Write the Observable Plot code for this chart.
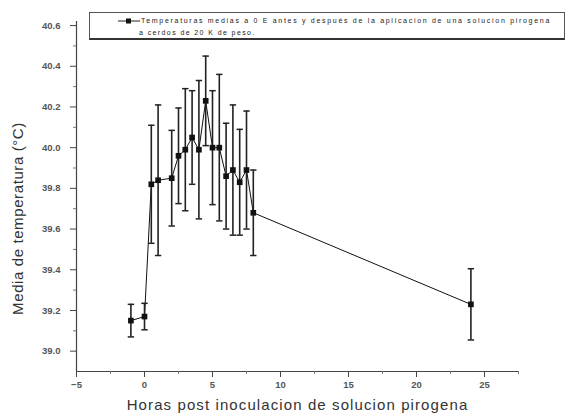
<!DOCTYPE html>
<html>
<head>
<meta charset="utf-8">
<script src="https://cdn.jsdelivr.net/npm/d3@7"></script>
<script src="https://cdn.jsdelivr.net/npm/@observablehq/plot@0.6"></script>
<style>
  html, body { margin: 0; padding: 0; background: #fff; }
  #wrap { position: relative; width: 567px; height: 419px; }
  #legend {
    position: absolute; left: 89px; top: 12px; width: 474px; height: 25px;
    border: 1px solid #555; border-bottom: 2px solid #333; background: #fff;
    font-family: "Liberation Sans", Arial, sans-serif; font-size: 7px; color: #222;
    letter-spacing: 1.7px; line-height: 11px; box-sizing: content-box;
  }
  #legend .l1 { position: absolute; top: 2px; white-space: nowrap; }
  #legend .l2 { position: absolute; left: 49px; top: 14px; white-space: nowrap; letter-spacing: 1.4px; }
  #legend svg { position: absolute; left: 27px; top: 4px; }
</style>
</head>
<body>
<div id="wrap">
  <div id="chart"></div>
  <div id="legend">
    <svg width="24" height="8"><line x1="1" y1="4" x2="23" y2="4" stroke="#222" stroke-width="1"/><rect x="9" y="1.5" width="5" height="5" fill="#111"/></svg>
    <div class="l1" style="left:51px">Temperaturas medias a 0 E antes y después de la aplicacion de una solucion pirogena</div>
    <div class="l2">a cerdos de 20 K de peso.</div>
  </div>
</div>
<script>
const hours = [-1, 0, 0.5, 1, 2, 2.5, 3, 3.5, 4, 4.5, 5, 5.5, 6, 6.5, 7, 7.5, 8, 24];
const meanTemp = [39.15, 39.17, 39.82, 39.84, 39.85, 39.96, 39.99, 40.05, 39.99, 40.23, 40.00, 40.00, 39.86, 39.89, 39.83, 39.89, 39.68, 39.23];
const errTemp = [0.08, 0.065, 0.29, 0.37, 0.235, 0.235, 0.30, 0.23, 0.34, 0.22, 0.28, 0.36, 0.26, 0.32, 0.26, 0.29, 0.21, 0.175];
const yTicks = [39.0, 39.2, 39.4, 39.6, 39.8, 40.0, 40.2, 40.4, 40.6];
const yMinor = [39.1, 39.3, 39.5, 39.7, 39.9, 40.1, 40.3, 40.5];
const xTicks = [-5, 0, 5, 10, 15, 20, 25];
const xMinor = [-2.5, 2.5, 7.5, 12.5, 17.5, 22.5, 27.5];
const yTitle = "Media de temperatura (°C)";
const xTitle = "Horas post inoculacion de solucion pirogena";

const data = hours.map((h, i) => ({h, t: meanTemp[i], lo: meanTemp[i] - errTemp[i], hi: meanTemp[i] + errTemp[i]}));

const capSymbol = {
  draw(ctx, size) {
    const w = Math.sqrt(size);
    ctx.moveTo(-w / 2, 0);
    ctx.lineTo(w / 2, 0);
  }
};

const tickFont = {fontSize: 9.5, fontWeight: "bold", fill: "#555"};

const chart = Plot.plot({
  width: 567,
  height: 419,
  marginLeft: 76,
  marginRight: 49,
  marginTop: 21,
  marginBottom: 48,
  style: {fontFamily: "'Liberation Sans', Arial, sans-serif", background: "#fff", color: "#333"},
  x: {domain: [-5, 27.5]},
  y: {domain: [38.9, 40.62]},
  marks: [
    Plot.ruleX([-5], {stroke: "#444", strokeWidth: 1.2}),
    Plot.ruleY([38.9], {stroke: "#444", strokeWidth: 1.2}),
    Plot.axisY({ticks: yTicks, tickFormat: d3.format(".1f"), tickSize: 6, tickPadding: 10, stroke: "#444", ...tickFont, label: null}),
    Plot.axisY({ticks: yMinor, tickFormat: () => "", tickSize: 3, stroke: "#777", label: null}),
    Plot.axisX({ticks: xTicks, tickFormat: d3.format("d"), tickSize: 6, tickPadding: 4, stroke: "#444", ...tickFont, label: null}),
    Plot.axisX({ticks: xMinor, tickFormat: () => "", tickSize: 3, stroke: "#777", label: null}),
    Plot.line(data, {x: "h", y: "t", stroke: "#111", strokeWidth: 1}),
    Plot.ruleX(data, {x: "h", y1: "lo", y2: "hi", stroke: "#222", strokeWidth: 1.6}),
    Plot.dot(data, {x: "h", y: "lo", symbol: capSymbol, r: 3.6, stroke: "#222", strokeWidth: 1.5, fill: "none"}),
    Plot.dot(data, {x: "h", y: "hi", symbol: capSymbol, r: 3.6, stroke: "#222", strokeWidth: 1.5, fill: "none"}),
    Plot.dot(data, {x: "h", y: "t", symbol: "square", r: 3.2, fill: "#111", stroke: "none"}),
    Plot.text([yTitle], {frameAnchor: "left", textAnchor: "middle", dx: -58, dy: 22, rotate: -90, fontSize: 15, fill: "#333"}),
    Plot.text([xTitle], {frameAnchor: "bottom", dy: 38, dx: 0, fontSize: 15, fill: "#333"})
  ]
});
d3.select(chart).selectAll("text").each(function() {
  const t = this.textContent;
  if (t === yTitle) this.style.letterSpacing = "0.6px";
  if (t === xTitle) this.style.letterSpacing = "1.1px";
});
document.getElementById("chart").appendChild(chart);
</script>
</body>
</html>
